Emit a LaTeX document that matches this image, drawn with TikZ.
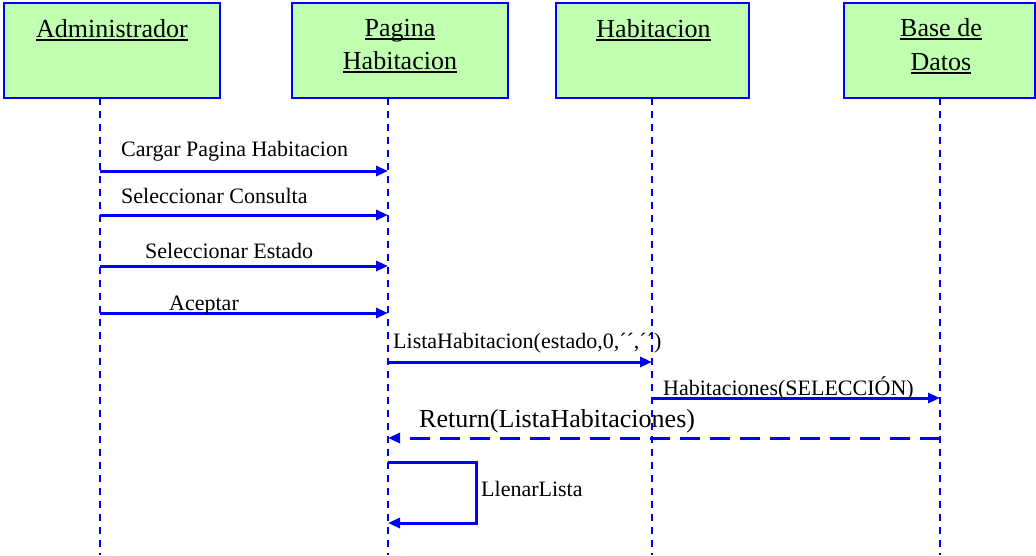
\documentclass[tikz,border=0pt]{standalone}
\usepackage{fontspec}
\setmainfont{Liberation Serif}
\usetikzlibrary{arrows.meta}
\definecolor{boxgreen}{RGB}{192,255,176}
\definecolor{lineblue}{RGB}{0,0,255}
\newsavebox\hulbox
\newcommand{\hul}[1]{\leavevmode\sbox\hulbox{#1}\rlap{\usebox\hulbox}\vrule height -1.8pt depth 3.8pt width \wd\hulbox}
\tikzset{
  actor/.style={draw=lineblue, line width=2.2pt, fill=boxgreen, anchor=north west, inner sep=0pt, outer sep=0pt},
  hdr/.style={font=\fontsize{26}{30}\selectfont, inner sep=0pt, anchor=base},
  lifeline/.style={draw=lineblue, line width=2.2pt, dash pattern=on 7pt off 6pt},
  msg/.style={draw=lineblue, line width=3pt, line join=miter, -{Triangle[length=12pt,width=10pt]}},
  ret/.style={msg, dash pattern=on 20pt off 10pt},
  lbl/.style={font=\fontsize{22}{24}\selectfont, inner sep=0pt, anchor=base west},
  biglbl/.style={font=\fontsize{26}{28}\selectfont, inner sep=0pt, anchor=base west},
}
\begin{document}
\begin{tikzpicture}[x=1pt,y=-1pt]
\useasboundingbox[fill=white] (0,0) rectangle (1036,555);

% lifeline coordinates
\coordinate (lA) at (100,98);
\coordinate (lP) at (388,98);
\coordinate (lH) at (652,98);
\coordinate (lB) at (940,98);
\coordinate (bot) at (0,555);

% lifelines
\draw[lifeline] (lA) -- (lA |- bot);
\draw[lifeline] (lP) -- (lP |- bot);
\draw[lifeline] (lH) -- (lH |- bot);
\draw[lifeline] (lB) -- (lB |- bot);

% actor boxes
\node[actor, minimum width=216pt, minimum height=95pt] (admin) at (4,3) {};
\node[actor, minimum width=216pt, minimum height=95pt] (pagina) at (292,3) {};
\node[actor, minimum width=193pt, minimum height=95pt] (habit) at (556,3) {};
\node[actor, minimum width=191pt, minimum height=95pt] (base) at (844,3) {};

% actor labels
\node[hdr] (tA) at (112,37) {\hul{Administrador}};
\node[hdr] (tP1) at (400,36) {\hul{Pagina}};
\node[hdr] (tP2) at (400,69) {\hul{Habitacion}};
\node[hdr] (tH) at (653.5,37) {\hul{Habitacion}};
\node[hdr] (tB1) at (941,36) {\hul{Base de}};
\node[hdr] (tB2) at (941,70) {\hul{Datos}};

% message rows
\coordinate (y1) at (0,171);
\coordinate (y2) at (0,215);
\coordinate (y3) at (0,266);
\coordinate (y4) at (0,313);
\coordinate (y5) at (0,362);
\coordinate (y6) at (0,398);
\coordinate (y7) at (0,438);
\coordinate (y8a) at (0,462);
\coordinate (y8b) at (0,523);
\coordinate (loopX) at (476,0);

\draw[msg] (lA |- y1) -- (lP |- y1);
\draw[msg] (lA |- y2) -- (lP |- y2);
\draw[msg] (lA |- y3) -- (lP |- y3);
\draw[msg] (lA |- y4) -- (lP |- y4);
\draw[msg] (lP |- y5) -- (lH |- y5);
\draw[msg] (lH |- y6) -- (lB |- y6);
\draw[ret] (lB |- y7) -- (lP |- y7);
\draw[msg] (lP |- y8a) -- (loopX |- y8a) -- (loopX |- y8b) -- (lP |- y8b);

% message labels
\node[lbl] (m1) at (121,156) {Cargar Pagina Habitacion};
\node[lbl] (m2) at (121,203) {Seleccionar Consulta};
\node[lbl] (m3) at (145,258) {Seleccionar Estado};
\node[lbl] (m4) at (169,310) {Aceptar};
\node[lbl] (m5) at (393,348) {ListaHabitacion(estado,0,´´,´´)};
\node[lbl] (m6) at (663,395) {Habitaciones(SELECCIÓN)};
\node[biglbl] (m7) at (419,427) {Return(ListaHabitaciones)};
\node[lbl] (m8) at (481,496) {LlenarLista};
\end{tikzpicture}
\end{document}
